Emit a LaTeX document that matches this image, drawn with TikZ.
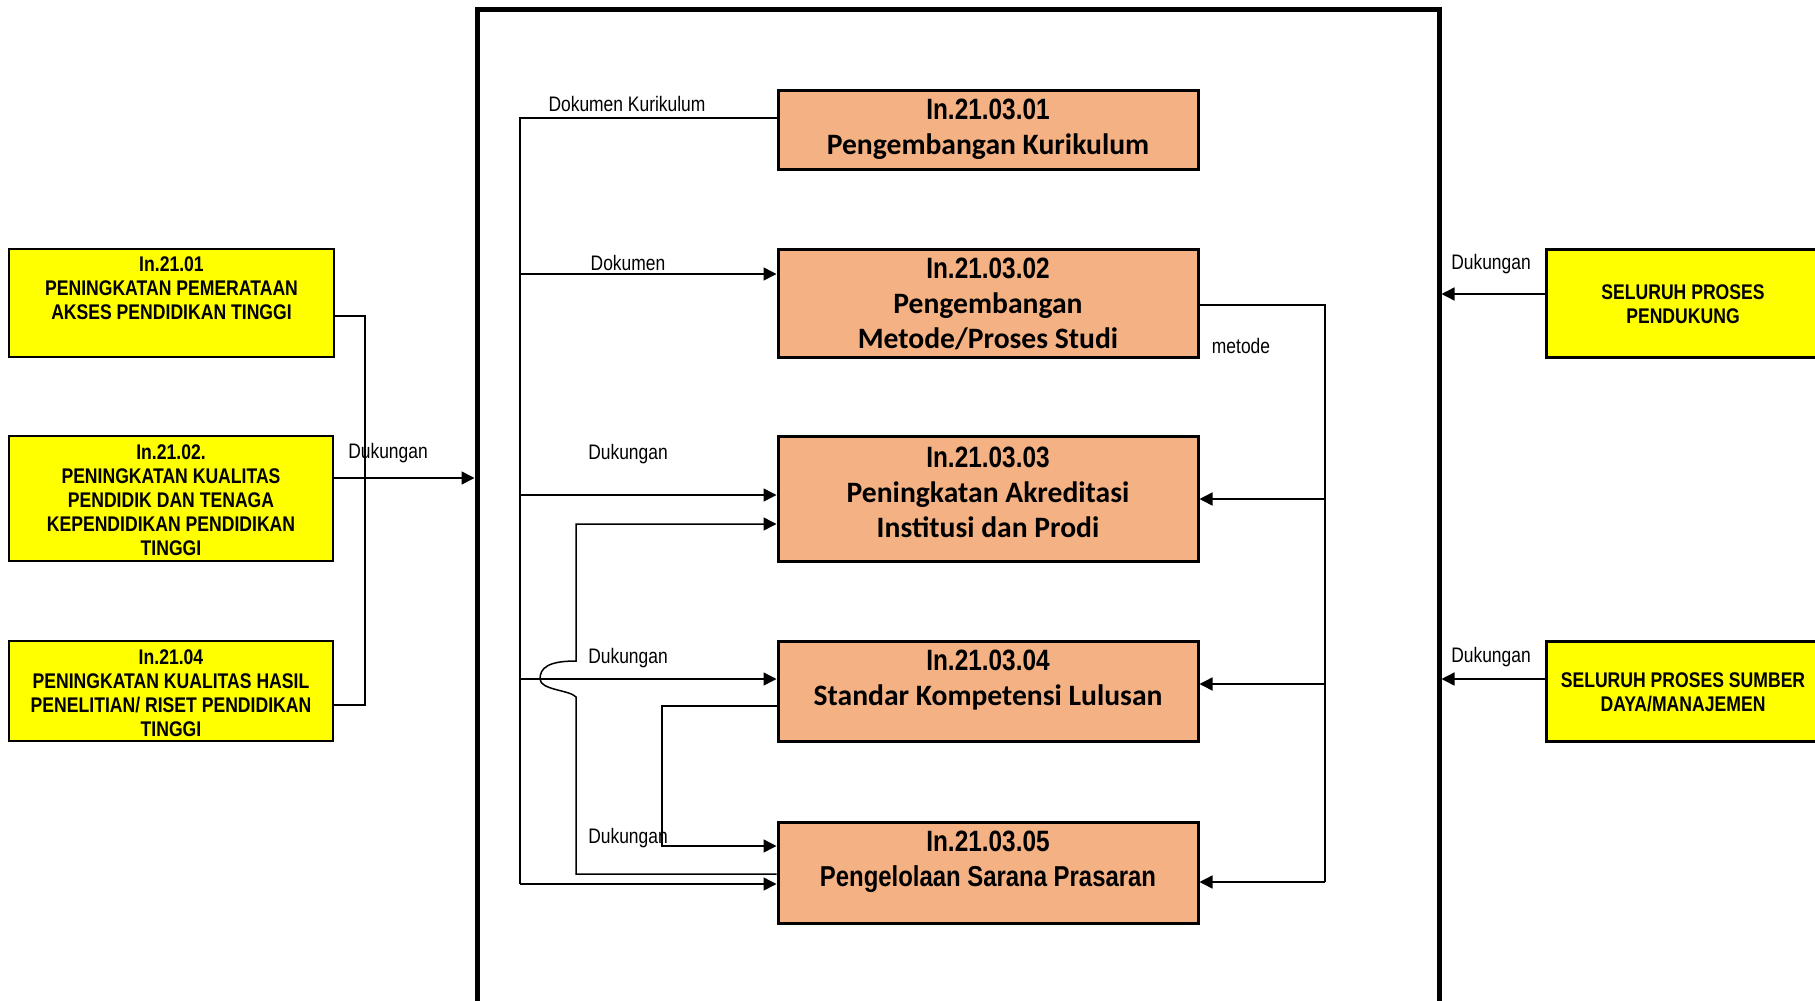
\documentclass[tikz,border=0pt]{standalone}
\usepackage{fontspec}
\usetikzlibrary{arrows.meta}
\newfontfamily\narrowsans[FakeStretch=0.83]{Liberation Sans}
\newfontfamily\calsans{Carlito}
\definecolor{procorange}{HTML}{F4B183}
\definecolor{signyellow}{HTML}{FFFF00}
\newcommand\pcode[1]{{\narrowsans\fontsize{14.7}{17.5}\selectfont #1}}

\begin{document}
\begin{tikzpicture}[x=0.5pt,y=-0.5pt,
  frame/.style={draw, line width=2.5pt, minimum width=481pt, minimum height=560pt, inner sep=0pt},
  pbox/.style={draw, line width=1.5pt, fill=procorange, minimum width=210pt, inner sep=0pt},
  ybox/.style={draw, fill=signyellow, inner sep=0pt},
  ytext/.style={font=\narrowsans\bfseries\fontsize{10.6}{12}\selectfont, align=center, inner sep=0pt},
  ptext/.style={font=\calsans\bfseries\fontsize{14.8}{17.5}\selectfont, align=center, inner sep=0pt},
  lbl/.style={font=\narrowsans\fontsize{10.5}{12}\selectfont, inner sep=0pt},
  conn/.style={line width=0.75pt, draw=black},
  arr/.style={conn, -{Triangle[length=6.5pt,width=6.5pt]}},
]
\useasboundingbox (0,0) rectangle (1815,1001);
\clip (0,0) rectangle (1815,1001);

% main process frame (open at the bottom of the page)
\node[frame] (inti) at (958,569) {};

% input programmes on the left
\node[ybox, line width=1.25pt, minimum width=162.5pt, minimum height=54pt] (ya) at (171.5,303) {};
\node[ytext] (ya-t) at (171.5,288.5) {In.21.01\\PENINGKATAN PEMERATAAN\\AKSES PENDIDIKAN TINGGI};
\node[ybox, line width=0.8pt, minimum width=162pt, minimum height=62.5pt] (yb) at (171,498.5) {};
\node[ytext] (yb-t) at (171,500.5) {In.21.02.\\PENINGKATAN KUALITAS\\PENDIDIK DAN TENAGA\\KEPENDIDIKAN PENDIDIKAN\\TINGGI};
\node[ybox, line width=0.8pt, minimum width=162pt, minimum height=50pt] (yc) at (171,691) {};
\node[ytext] (yc-t) at (171,693) {In.21.04\\PENINGKATAN KUALITAS HASIL\\PENELITIAN/ RISET PENDIDIKAN\\TINGGI};

% supporting processes on the right
\node[ybox, line width=1.5pt, minimum width=137pt, minimum height=54pt] (yr1) at (1683,303) {};
\node[ytext] (yr1-t) at (1683,304.5) {SELURUH PROSES\\PENDUKUNG};
\node[ybox, line width=1.5pt, minimum width=137pt, minimum height=50pt] (yr2) at (1683,691) {};
\node[ytext] (yr2-t) at (1683,692.5) {SELURUH PROSES SUMBER\\DAYA/MANAJEMEN};

% sub-processes
\node[pbox, minimum height=39.5pt] (o1) at (988,129.5) {};
\node[ptext] (o1-t) at (988,129.5) {\pcode{In.21.03.01}\\Pengembangan Kurikulum};
\node[pbox, minimum height=54pt] (o2) at (988,303) {};
\node[ptext] (o2-t) at (988,304) {\pcode{In.21.03.02}\\Pengembangan\\Metode/Proses Studi};
\node[pbox, minimum height=62.5pt] (o3) at (988,498.5) {};
\node[ptext] (o3-t) at (988,492) {\pcode{In.21.03.03}\\Peningkatan Akreditasi\\Institusi dan Prodi};
\node[pbox, minimum height=50pt] (o4) at (988,691.5) {};
\node[ptext] (o4-t) at (988,680.5) {\pcode{In.21.03.04}\\Standar Kompetensi Lulusan};
\node[pbox, minimum height=50.5pt] (o5) at (988,872.5) {};
\node[ptext] (o5-t) at (988,861.5) {\pcode{In.21.03.05}\\{\narrowsans\fontsize{14.4}{17.5}\selectfont Pengelolaan Sarana Prasaran}};

% bus coordinates
\coordinate (jl) at (365,316);
\coordinate (busL) at (520,118);
\coordinate (loopA) at (576,874);
\coordinate (loopB) at (662,706);
\coordinate (busR) at (1325,305);

% left programmes into the frame
\draw[conn] (ya.east |- jl) -- (jl) -- (jl |- 0,705) -- (yc.east |- 0,705);
\draw[arr] (yb.east |- 0,478) -- (inti.west |- 0,478);
\node[lbl] (l-dk0) at (388,453.5) {Dukungan};

% left-hand bus fed by the curriculum
\draw[conn] (o1.west |- busL) -- (busL) -- (busL |- 0,884);
\draw[arr] (busL |- 0,274) -- (o2.west |- 0,274);
\draw[arr] (busL |- 0,495) -- (o3.west |- 0,495);
\draw[arr] (busL |- 0,679) -- (o4.west |- 0,679);
\draw[arr] (busL |- 0,884) -- (o5.west |- 0,884);
\node[lbl] (l-kur) at (627,104) {Dokumen Kurikulum};
\node[lbl] (l-dok) at (628,263) {Dokumen};
\node[lbl] (l-dk1) at (628,454) {Dukungan};
\node[lbl] (l-dk2) at (628,658.5) {Dukungan};
\node[lbl] (l-dk3) at (628,838.5) {Dukungan};

% facilities back to accreditation, hopping over the bus branch
\draw[arr] (o5.west |- loopA) -- (loopA) -- (loopA |- 0,697)
  .. controls (570,690) and (540,690) .. (540,679)
  .. controls (540,668) and (548,661) .. (loopA |- 0,661)
  -- (loopA |- 0,524) -- (o3.west |- 0,524);

% graduate standards to facilities
\draw[arr] (o4.west |- loopB) -- (loopB) -- (loopB |- 0,846) -- (o5.west |- 0,846);

% method bus on the right
\draw[conn] (o2.east |- busR) -- (busR) -- (busR |- 0,882);
\draw[arr] (busR |- 0,499) -- (o3.east |- 0,499);
\draw[arr] (busR |- 0,684) -- (o4.east |- 0,684);
\draw[arr] (busR |- 0,882) -- (o5.east |- 0,882);
\node[lbl] (l-met) at (1241,345.5) {metode};

% supporting processes into the frame
\draw[arr] (yr1.west |- 0,294) -- (inti.east |- 0,294);
\draw[arr] (yr2.west |- 0,679) -- (inti.east |- 0,679);
\node[lbl] (l-dk4) at (1491,264) {Dukungan};
\node[lbl] (l-dk5) at (1491,657) {Dukungan};
\end{tikzpicture}
\end{document}
